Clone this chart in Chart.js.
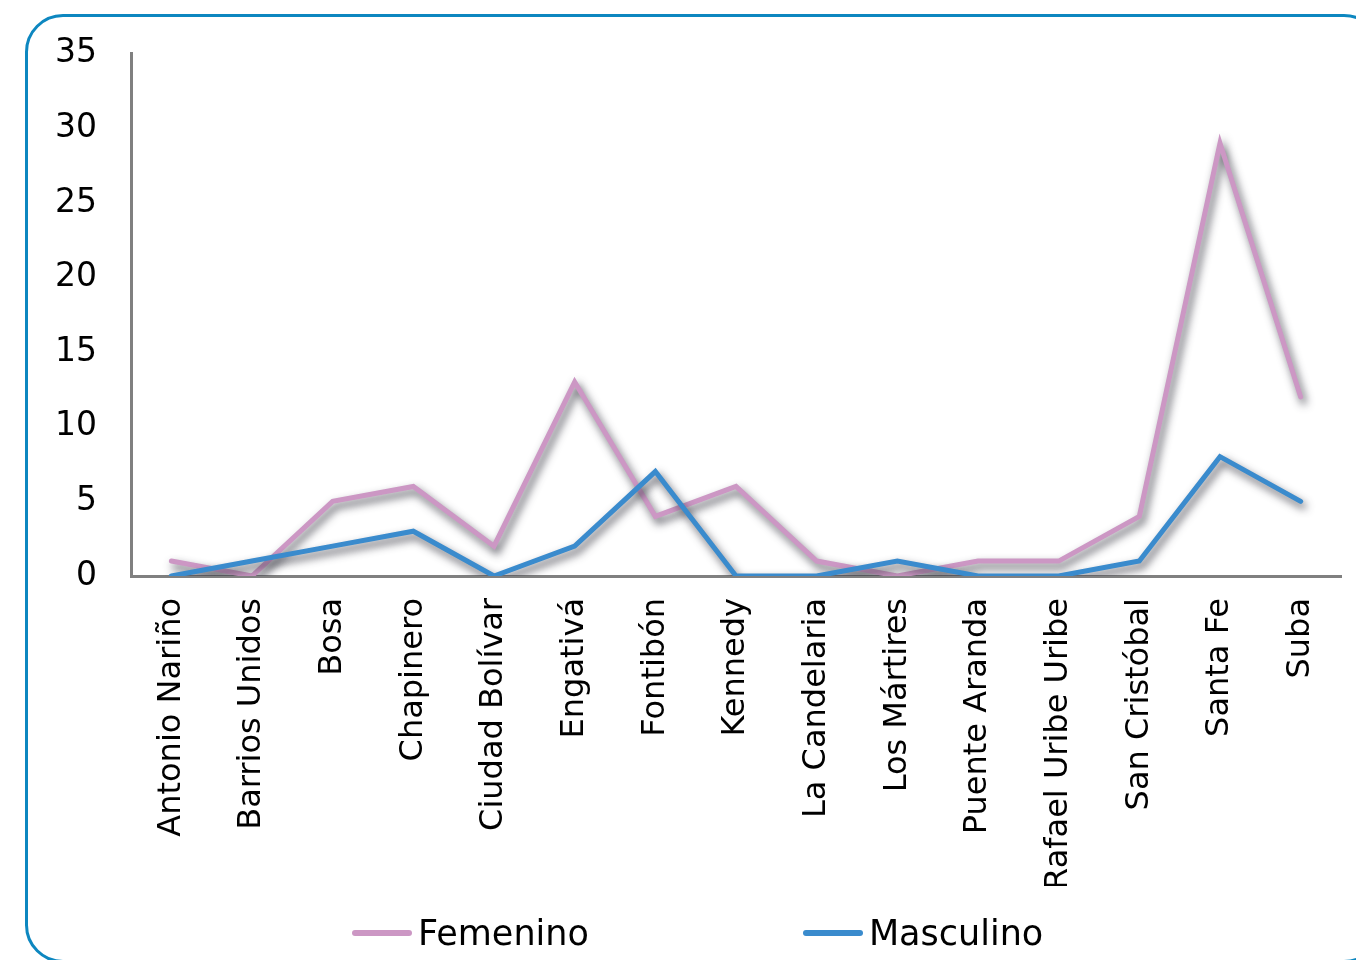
<!DOCTYPE html>
<html>
<head>
<meta charset="utf-8">
<script src="https://cdn.jsdelivr.net/npm/chart.js@4.4.1/dist/chart.umd.min.js"></script>
<style>
  html, body { margin: 0; padding: 0; background: #fff; overflow: hidden; }
  #wrap { position: relative; width: 1356px; height: 960px; overflow: hidden; }
  #frame {
    position: absolute; left: 25px; top: 14px; width: 1357px; height: 949px;
    border: 3px solid #0d87c0; border-radius: 38px; box-sizing: border-box;
  }
  #chartBox { position: absolute; left: 0; top: 0; width: 1356px; height: 960px; }
  #legend {
    position: absolute; left: 352px; top: 913px; display: flex; align-items: center;
    font-family: "DejaVu Sans", sans-serif; font-size: 35px; color: #000;
  }
  .item { display: flex; align-items: center; margin-right: 214px; }
  .swatch { width: 60px; height: 6px; border-radius: 3px; margin-right: 6px; }
</style>
</head>
<body>
<div id="wrap">
  <div id="frame"></div>
  <div id="chartBox"><canvas id="lineChart" width="1356" height="960"></canvas></div>
  <div id="legend"></div>
</div>
<script>
var localidades = ['Antonio Nariño', 'Barrios Unidos', 'Bosa', 'Chapinero', 'Ciudad Bolívar',
  'Engativá', 'Fontibón', 'Kennedy', 'La Candelaria', 'Los Mártires', 'Puente Aranda',
  'Rafael Uribe Uribe', 'San Cristóbal', 'Santa Fe', 'Suba'];
var femenino = [1, 0, 5, 6, 2, 13, 4, 6, 1, 0, 1, 1, 4, 29, 12];
var masculino = [0, 1, 2, 3, 0, 2, 7, 0, 0, 1, 0, 0, 1, 8, 5];
var seriesNames = ['Femenino', 'Masculino'];
var seriesColors = ['#cc97c4', '#3a8bcd'];

// grey shadow under each line, like the office chart effect
var lineShadow = {
  id: 'lineShadow',
  beforeDatasetDraw: function(chart) {
    var ctx = chart.ctx;
    ctx.save();
    ctx.shadowColor = 'rgba(60,60,70,0.85)';
    ctx.shadowBlur = 8;
    ctx.shadowOffsetX = 3;
    ctx.shadowOffsetY = 5;
  },
  afterDatasetDraw: function(chart) {
    chart.ctx.restore();
  }
};

var ctx = document.getElementById('lineChart').getContext('2d');
var chart = new Chart(ctx, {
  type: 'line',
  data: {
    labels: localidades,
    datasets: [{
      label: seriesNames[0],
      data: femenino,
      borderColor: seriesColors[0],
      backgroundColor: seriesColors[0],
      borderWidth: 5,
      order: 2
    }, {
      label: seriesNames[1],
      data: masculino,
      borderColor: seriesColors[1],
      backgroundColor: seriesColors[1],
      borderWidth: 5,
      order: 1
    }]
  },
  options: {
    responsive: false,
    animation: false,
    layout: { padding: { left: 0, right: 15, top: 51, bottom: 74 } },
    elements: {
      line: { tension: 0, borderCapStyle: 'round', borderJoinStyle: 'miter' },
      point: { radius: 0, hoverRadius: 0 }
    },
    plugins: {
      legend: { display: false },
      tooltip: { enabled: false }
    },
    scales: {
      x: {
        offset: true,
        grid: { display: false, drawTicks: false },
        border: { color: '#808080', width: 3 },
        ticks: {
          color: '#000',
          font: { family: 'DejaVu Sans', size: 32 },
          minRotation: 90, maxRotation: 90,
          autoSkip: false, padding: 22
        },
        afterFit: function(scale) {
          scale.height = 310;
          scale.paddingLeft = 0;
          scale.paddingRight = 0;
        }
      },
      y: {
        min: 0, max: 35,
        grid: { display: false, drawTicks: false },
        border: { color: '#808080', width: 3 },
        ticks: {
          stepSize: 5, color: '#000',
          font: { family: 'DejaVu Sans', size: 33 },
          padding: 34
        },
        afterFit: function(scale) { scale.width = 131; }
      }
    }
  },
  plugins: [lineShadow]
});

// html legend built from the datasets
var legend = document.getElementById('legend');
chart.data.datasets.forEach(function(ds) {
  var item = document.createElement('div');
  item.className = 'item';
  var sw = document.createElement('span');
  sw.className = 'swatch';
  sw.style.background = ds.borderColor;
  var txt = document.createElement('span');
  txt.textContent = ds.label;
  item.appendChild(sw);
  item.appendChild(txt);
  legend.appendChild(item);
});
</script>
</body>
</html>
